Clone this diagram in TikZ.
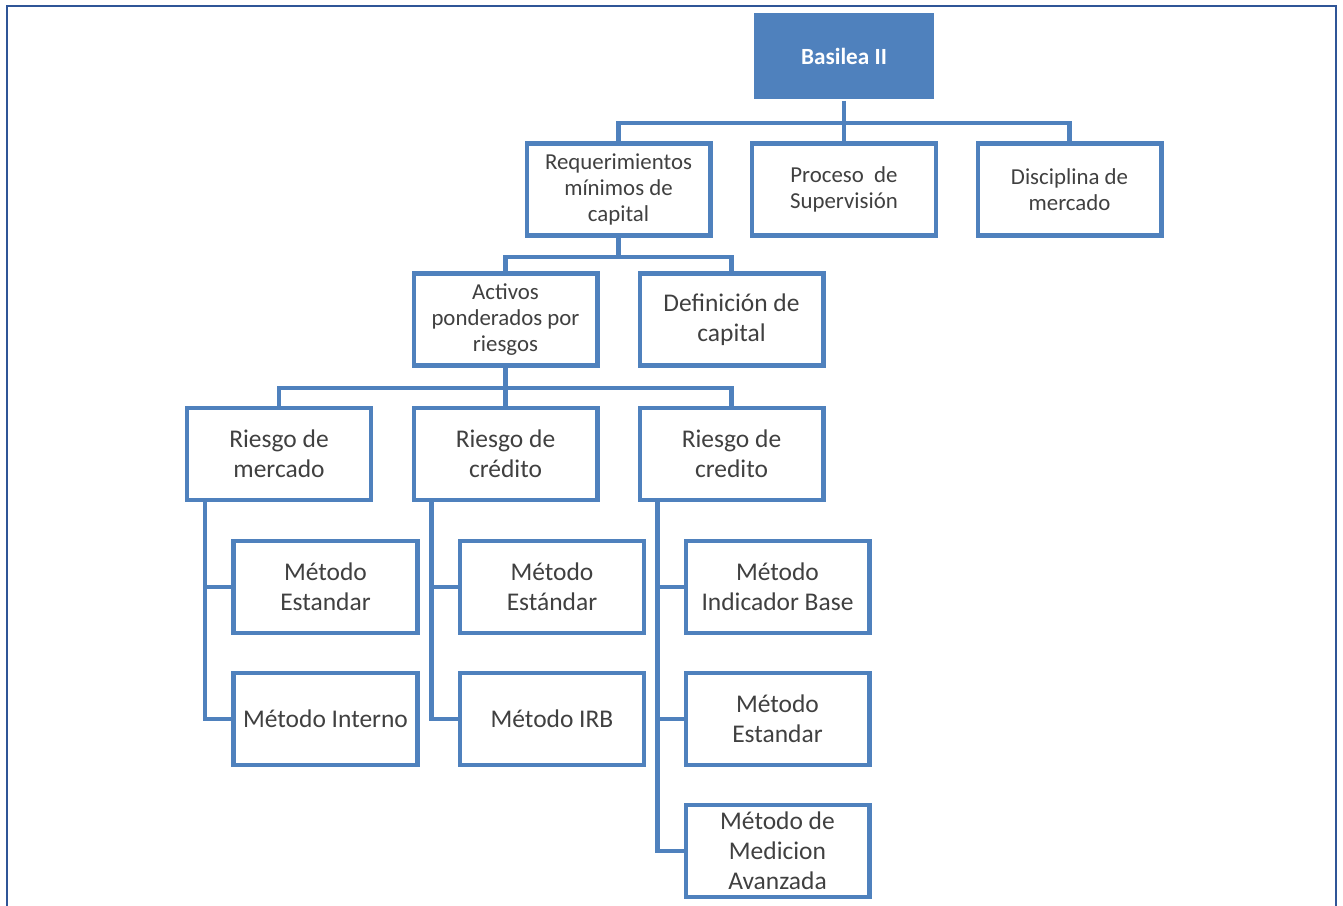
\documentclass[tikz,border=0pt]{standalone}
\usepackage{fontspec}
\setmainfont{Carlito}
\usepackage{xcolor}
\definecolor{boxc}{RGB}{79, 129, 189}
\definecolor{frm}{RGB}{47, 85, 151}
\definecolor{txt}{RGB}{64, 64, 64}

\tikzset{
  box/.style={draw=boxc, line width=2.3pt, fill=white, text=txt, align=center,
    minimum width=3.68cm, minimum height=1.84cm, inner sep=1pt},
  small/.style={font=\fontsize{13}{14.8}\selectfont},
  big/.style={font=\fontsize{14.5}{17}\selectfont},
  head/.style={fill=boxc, draw=white, line width=1pt, text=white,
    minimum width=3.64cm, minimum height=1.76cm, font=\fontsize{13.2}{15}\selectfont\bfseries},
  link/.style={draw=boxc, line width=2.3pt}
}

\begin{document}
\begin{tikzpicture}[x=0.02cm, y=-0.02cm]
      \useasboundingbox (0,0) rectangle (1343,906);
      \draw[color=frm, line width=1.6pt] (7,906)--(7,6)--(1336,6)--(1336,906);
      % top
      \node[head] (bas) at (844, 56) {Basilea II};
      \node[box, small] (req) at (618.5, 189.5) {Requerimientos\\m\'inimos de\\capital};
      \node[box, small] (proc) at (844, 189.5) {Proceso\ \ de\\Supervisi\'on};
      \node[box, small] (disc) at (1069.5, 189.5) {Disciplina de\\mercado};
      \coordinate (bus1) at (844, 123);
      \draw[link] (bas.south) -- (bus1);
      \draw[link] (bus1) -| (req.north);
      \draw[link] (bus1) -- (proc.north);
      \draw[link] (bus1) -| (disc.north);
      % second level
      \node[box, small] (act) at (505.5, 319.5) {Activos\\ponderados por\\riesgos};
      \node[box, big] (defc) at (731.5, 319.5) {Definici\'on de\\capital};
      \coordinate (bus2) at (618.5, 257);
      \draw[link] (req.south) -- (bus2);
      \draw[link] (bus2) -| (act.north);
      \draw[link] (bus2) -| (defc.north);
      % risks
      \node[box, big] (rmer) at (279, 454) {Riesgo de\\mercado};
      \node[box, big] (rcre) at (505.5, 454) {Riesgo de\\cr\'edito};
      \node[box, big] (rope) at (731.5, 454) {Riesgo de\\credito};
      \coordinate (bus3) at (505.5, 388);
      \draw[link] (act.south) -- (bus3);
      \draw[link] (bus3) -| (rmer.north);
      \draw[link] (bus3) -- (rcre.north);
      \draw[link] (bus3) -| (rope.north);
      % methods
      \node[box, big] (m1a) at (325.5, 587) {M\'etodo\\Estandar};
      \node[box, big] (m1b) at (325.5, 719) {M\'etodo Interno};
      \node[box, big] (m2a) at (552, 587) {M\'etodo\\Est\'andar};
      \node[box, big] (m2b) at (552, 719) {M\'etodo IRB};
      \node[box, big] (m3a) at (777.5, 587) {M\'etodo\\Indicador Base};
      \node[box, big] (m3b) at (777.5, 719) {M\'etodo\\Estandar};
      \node[box, big] (m3c) at (777.5, 851) {M\'etodo de\\Medicion\\Avanzada};
      \draw[link] ([xshift=0.4cm]rmer.south west) |- (m1a.west);
      \draw[link] ([xshift=0.4cm]rmer.south west) |- (m1b.west);
      \draw[link] ([xshift=0.4cm]rcre.south west) |- (m2a.west);
      \draw[link] ([xshift=0.4cm]rcre.south west) |- (m2b.west);
      \draw[link] ([xshift=0.4cm]rope.south west) |- (m3a.west);
      \draw[link] ([xshift=0.4cm]rope.south west) |- (m3b.west);
      \draw[link] ([xshift=0.4cm]rope.south west) |- (m3c.west);
\end{tikzpicture}
\end{document}
